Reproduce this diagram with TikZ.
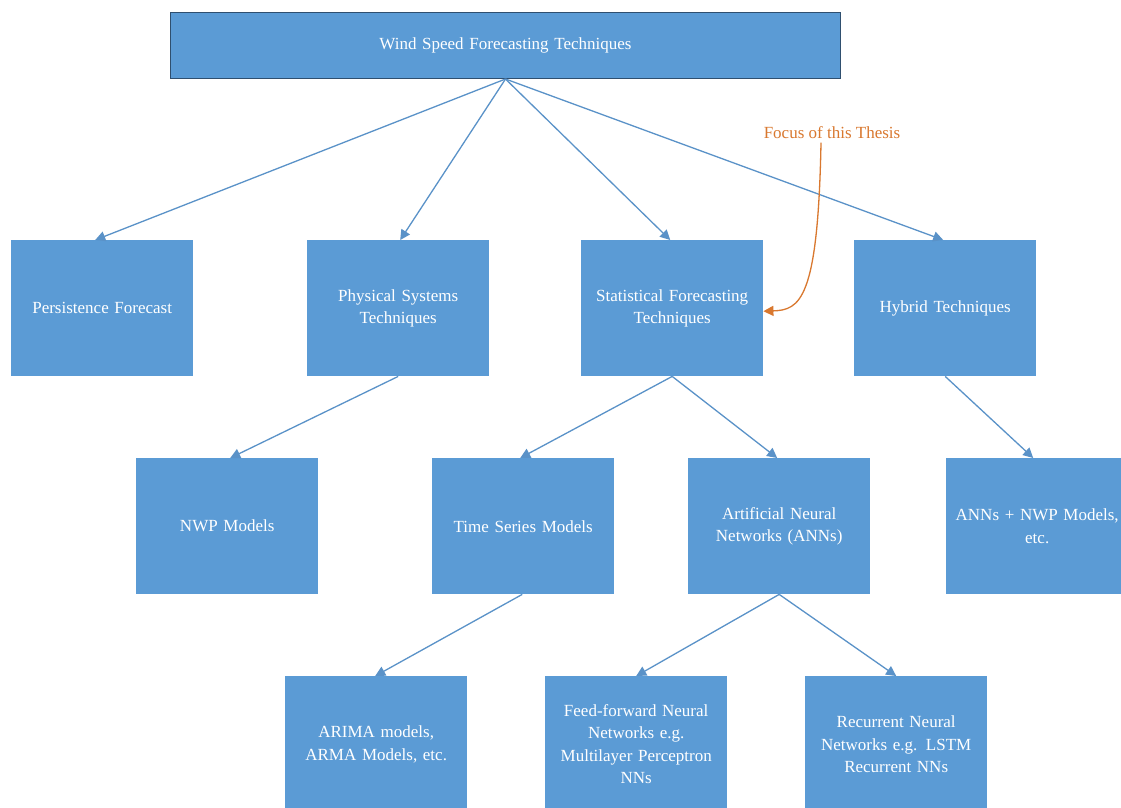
\documentclass[tikz,border=0pt]{standalone}
\usepackage{fontspec}
\setmainfont{Liberation Serif}
\usetikzlibrary{arrows.meta}
\definecolor{boxblue}{HTML}{5B9BD5}
\definecolor{boxedge}{HTML}{2F4F6F}
\definecolor{linkblue}{HTML}{5A92C8}
\definecolor{noteorange}{HTML}{D9782F}
\begin{document}
\begin{tikzpicture}[x=1pt,y=-1pt,
  box/.style={draw=none,fill=boxblue,text=white,minimum width=182pt,minimum height=136pt,
    inner sep=2pt,align=center,font=\fontsize{17}{22.5}\selectfont,text width=178pt},
  link/.style={draw=linkblue,line width=1.3pt,-{Triangle[length=10pt,width=10pt]}},
  note/.style={draw=noteorange,line width=1.3pt,-{Triangle[length=10pt,width=10pt]}}]
\clip (0,0) rectangle (1121,807);
\fill[white] (0,0) rectangle (1121,807);
% root
\node[box,draw=boxedge,line width=1pt,minimum width=670pt,minimum height=66pt,text width=600pt,anchor=north west] (root) at (170,12) {Wind Speed Forecasting Techniques};
% first level
\node[box,anchor=north west] (pers) at (11,240) {Persistence Forecast};
\node[box,anchor=north west] (phys) at (307,240) {Physical Systems\\Techniques};
\node[box,anchor=north west] (stat) at (581,240) {Statistical Forecasting\\Techniques};
\node[box,anchor=north west] (hyb) at (854,240) {Hybrid Techniques};
% second level
\node[box,anchor=north west] (nwp) at (136,458) {NWP Models};
\node[box,anchor=north west] (ts) at (432,458) {Time Series Models};
\node[box,anchor=north west] (ann) at (688,458) {Artificial Neural\\Networks (ANNs)};
\node[box,anchor=north west] (annnwp) at (946,458) {ANNs + NWP Models,\\etc.};
% third level
\node[box,anchor=north west] (arima) at (285,676) {ARIMA models,\\ARMA Models, etc.};
\node[box,anchor=north west] (ff) at (545,676) {Feed-forward Neural\\Networks e.g.\\Multilayer Perceptron\\NNs};
\node[box,anchor=north west] (rnn) at (805,676) {Recurrent Neural\\Networks e.g. LSTM\\Recurrent NNs};
% connectors
\draw[link] (root.south) -- ([xshift=-7pt]pers.north);
\draw[link] (root.south) -- ([xshift=2pt]phys.north);
\draw[link] (root.south) -- ([xshift=-2pt]stat.north);
\draw[link] (root.south) -- ([xshift=-2pt]hyb.north);
\draw[link] (phys.south) -- ([xshift=3pt]nwp.north);
\draw[link] (stat.south) -- ([xshift=-3pt]ts.north);
\draw[link] (stat.south) -- ([xshift=-2pt]ann.north);
\draw[link] (hyb.south) -- ([xshift=-4pt]annnwp.north);
\draw[link] ([xshift=-1pt]ts.south) -- ([xshift=-1pt]arima.north);
\draw[link] (ann.south) -- (ff.north);
\draw[link] (ann.south) -- (rnn.north);
% annotation
\node[text=noteorange,font=\fontsize{17}{20}\selectfont] (focus) at (832,133) {Focus of this Thesis};
\draw[note] (focus.south -| 821,0) .. controls (818,300) and (800,310) .. ([yshift=-3pt]stat.east);
\end{tikzpicture}
\end{document}
